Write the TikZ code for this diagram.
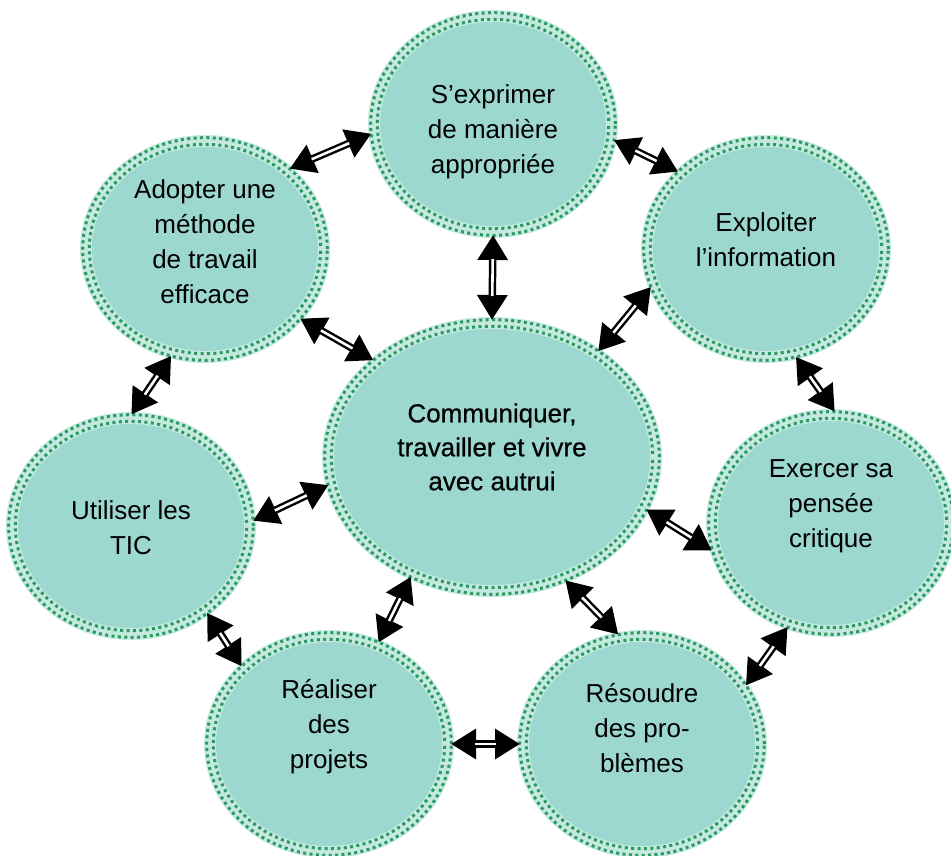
\documentclass[tikz,border=0pt]{standalone}
\usepackage{fontspec}
\setmainfont{Liberation Sans}
\newfontfamily\medfont[FakeBold=0.6]{Liberation Sans}
\usetikzlibrary{shapes.geometric,arrows.meta}
\definecolor{compfill}{RGB}{157,216,208}
\definecolor{compband}{RGB}{196,234,223}
\definecolor{compdot}{RGB}{44,152,98}

\begin{document}
\begin{tikzpicture}[x=1bp,y=-1bp,
  comp/.style={ellipse,minimum width=238bp,minimum height=216bp,inner sep=0pt,
    fill=compfill,draw=compband,line width=12bp},
  txt/.style={align=center,font=\fontsize{26bp}{35bp}\selectfont},
  dots/.style={draw=compdot,line width=3bp,dash pattern=on 3bp off 3.4bp},
  link/.style={draw=black,line width=7.5bp,shorten <=-3bp,shorten >=-3bp,
    {Triangle[length=25bp,width=29bp]}-{Triangle[length=25bp,width=29bp]},
    postaction={draw=white,line width=2.6bp,arrows=-,shorten <=21bp,shorten >=21bp}}]
\useasboundingbox (0,0) rectangle (951,856);
\node[comp,label={[txt,yshift=-8bp]center:S’exprimer\\de manière\\appropriée}] (expr) at (493,124) {};
\node[comp,label={[txt,yshift=7bp]center:Adopter une\\méthode\\de travail\\efficace}] (adopt) at (205,249) {};
\node[comp,label={[txt,yshift=9bp]center:Exploiter\\l’information}] (explo) at (766,249) {};
\node[comp,minimum width=328bp,minimum height=268bp,
  label={[txt,font=\fontsize{26bp}{34bp}\medfont,yshift=10bp]center:Communiquer,\\travailler et vivre\\avec autrui}] (autrui) at (492,457) {};
\node[comp,label={[txt,yshift=-2bp]center:Utiliser les\\TIC}] (util) at (131,526) {};
\node[comp,label={[txt,yshift=17bp]center:Exercer sa\\pensée\\critique}] (exer) at (831,523) {};
\node[comp,label={[txt,yshift=17bp]center:Réaliser\\des\\projets}] (real) at (329,744) {};
\node[comp,label={[txt,yshift=16bp]center:Résoudre\\des pro-\\blèmes}] (reso) at (642,744) {};
% green dots on the borders
\draw[dots] (expr.center) ellipse [x radius=122.3bp,y radius=111.3bp];
\draw[dots,dash phase=3.2bp] (expr.center) ellipse [x radius=115.7bp,y radius=104.7bp];
\draw[dots] (adopt.center) ellipse [x radius=122.3bp,y radius=111.3bp];
\draw[dots,dash phase=3.2bp] (adopt.center) ellipse [x radius=115.7bp,y radius=104.7bp];
\draw[dots] (explo.center) ellipse [x radius=122.3bp,y radius=111.3bp];
\draw[dots,dash phase=3.2bp] (explo.center) ellipse [x radius=115.7bp,y radius=104.7bp];
\draw[dots] (autrui.center) ellipse [x radius=167.3bp,y radius=137.3bp];
\draw[dots,dash phase=3.2bp] (autrui.center) ellipse [x radius=160.7bp,y radius=130.7bp];
\draw[dots] (util.center) ellipse [x radius=122.3bp,y radius=111.3bp];
\draw[dots,dash phase=3.2bp] (util.center) ellipse [x radius=115.7bp,y radius=104.7bp];
\draw[dots] (exer.center) ellipse [x radius=122.3bp,y radius=111.3bp];
\draw[dots,dash phase=3.2bp] (exer.center) ellipse [x radius=115.7bp,y radius=104.7bp];
\draw[dots] (real.center) ellipse [x radius=122.3bp,y radius=111.3bp];
\draw[dots,dash phase=3.2bp] (real.center) ellipse [x radius=115.7bp,y radius=104.7bp];
\draw[dots] (reso.center) ellipse [x radius=122.3bp,y radius=111.3bp];
\draw[dots,dash phase=3.2bp] (reso.center) ellipse [x radius=115.7bp,y radius=104.7bp];
% double arrows
\draw[link] (adopt.43) -- (expr.185);
\draw[link] (expr.352) -- (explo.139);
\draw[link] (expr.270) -- (autrui.90);
\draw[link] (adopt.324) -- (autrui.141);
\draw[link] (explo.199) -- (autrui.45);
\draw[link] (adopt.252) -- (util.89);
\draw[link] (explo.286) -- (exer.89);
\draw[link] (util.3) -- (autrui.190);
\draw[link] (autrui.341) -- (exer.192);
\draw[link] (util.311) -- (real.138);
\draw[link] (autrui.236) -- (real.64);
\draw[link] (autrui.301) -- (reso.103);
\draw[link] (exer.247) -- (reso.30);
\draw[link] (real.0) -- (reso.180);
\end{tikzpicture}
\end{document}
